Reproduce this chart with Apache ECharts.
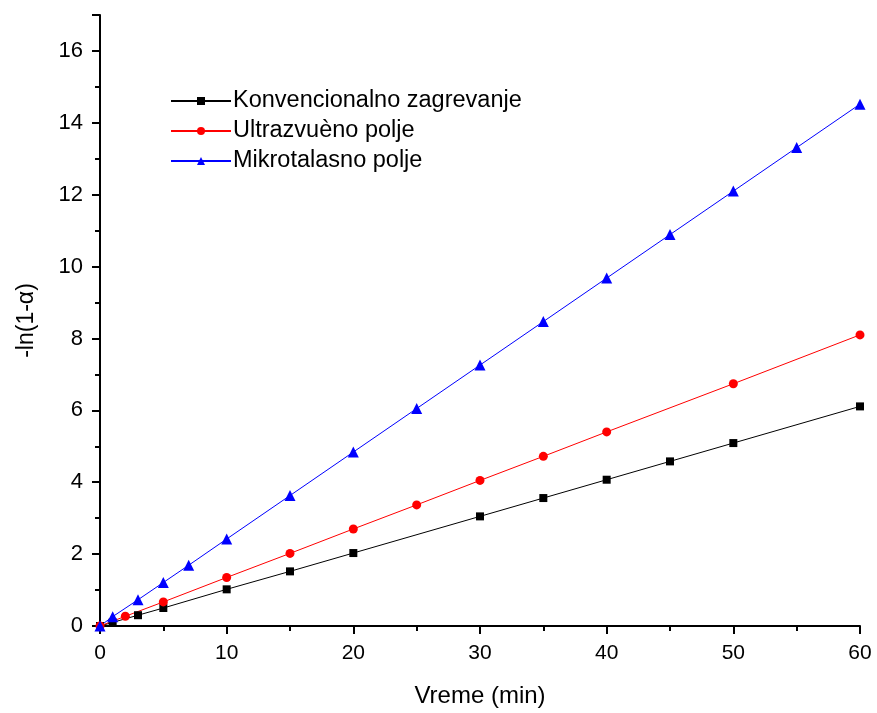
<!DOCTYPE html>
<html><head><meta charset="utf-8">
<script src="https://cdn.jsdelivr.net/npm/echarts@6/dist/echarts.min.js"></script>
<style>html,body{margin:0;padding:0;background:#fff}#c{width:877px;height:713px}</style>
</head><body><div id="c"></div>
<script>
var seriesNames = ['Konvencionalno zagrevanje', 'Ultrazvuèno polje', 'Mikrotalasno polje'];
var konvX = [0, 1, 3, 5, 10, 15, 20, 30, 35, 40, 45, 50, 60];
var konvY = [0, 0.1, 0.3, 0.5, 1.02, 1.52, 2.03, 3.05, 3.56, 4.07, 4.58, 5.09, 6.11];
var ultraX = [0, 2, 5, 10, 15, 20, 25, 30, 35, 40, 50, 60];
var ultraY = [0, 0.27, 0.67, 1.35, 2.02, 2.7, 3.37, 4.05, 4.72, 5.4, 6.74, 8.1];
var mikroX = [0, 1, 3, 5, 7, 10, 15, 20, 25, 30, 35, 40, 45, 50, 55, 60];
var mikroY = [0, 0.26, 0.73, 1.21, 1.69, 2.42, 3.63, 4.84, 6.05, 7.26, 8.47, 9.68, 10.89, 12.1, 13.31, 14.52];
var xTicks = [0, 10, 20, 30, 40, 50, 60];
var yTicks = [0, 2, 4, 6, 8, 10, 12, 14, 16];

function pairs(xs, ys) { return xs.map(function (x, i) { return [x, ys[i]]; }); }

var chart = echarts.init(document.getElementById('c'), null, {renderer: 'canvas'});
var font = 'Liberation Sans, Arial, sans-serif';
var mk = function (name, xs, ys, color, symbol, size) {
  return {
    name: name, type: 'line', data: pairs(xs, ys), symbol: symbol, symbolSize: size,
    showAllSymbol: true, clip: false,
    lineStyle: {color: color, width: 1}, itemStyle: {color: color},
    emphasis: {disabled: true}, animation: false
  };
};
chart.setOption({
  animation: false,
  backgroundColor: '#fff',
  grid: {left: 100, right: 17, top: 15, bottom: 87, containLabel: false, outerBoundsMode: 'none'},
  legend: {
    orient: 'vertical', left: 165, top: 84, itemWidth: 60, itemHeight: 10, itemGap: 6,
    textStyle: {fontFamily: font, fontSize: 23.5, color: '#000', padding: [0, 0, 0, -3]},
    data: seriesNames
  },
  xAxis: {
    type: 'value', min: 0, max: 60, interval: 10,
    name: 'Vreme (min)', nameLocation: 'middle', nameGap: 58,
    nameTextStyle: {fontFamily: font, fontSize: 24, color: '#000'},
    axisLine: {show: true, onZero: false, lineStyle: {color: '#000', width: 2}},
    axisTick: {show: true, inside: false, length: 8, lineStyle: {color: '#000', width: 2}},
    minorTick: {show: true, splitNumber: 2, length: 5, lineStyle: {color: '#000', width: 2}},
    axisLabel: {fontFamily: font, fontSize: 21, color: '#000', margin: 17},
    splitLine: {show: false}
  },
  yAxis: {
    type: 'value', min: 0, max: 17, interval: 2,
    name: '-ln(1-α)', nameLocation: 'middle', nameGap: 62, nameRotate: 90,
    nameTextStyle: {fontFamily: font, fontSize: 23, color: '#000'},
    axisLine: {show: true, onZero: false, lineStyle: {color: '#000', width: 2}},
    axisTick: {show: true, inside: false, length: 8, lineStyle: {color: '#000', width: 2}},
    minorTick: {show: true, splitNumber: 2, length: 5, lineStyle: {color: '#000', width: 2}},
    axisLabel: {fontFamily: font, fontSize: 22, color: '#000', margin: 17,
      formatter: function (v) { return yTicks.indexOf(v) >= 0 ? String(v) : ''; }},
    splitLine: {show: false}
  },
  series: [
    mk(seriesNames[0], konvX, konvY, '#000000', 'rect', 8),
    mk(seriesNames[1], ultraX, ultraY, '#ff0000', 'circle', 9),
    mk(seriesNames[2], mikroX, mikroY, '#0000ff', 'triangle', 11)
  ]
});
</script></body></html>
